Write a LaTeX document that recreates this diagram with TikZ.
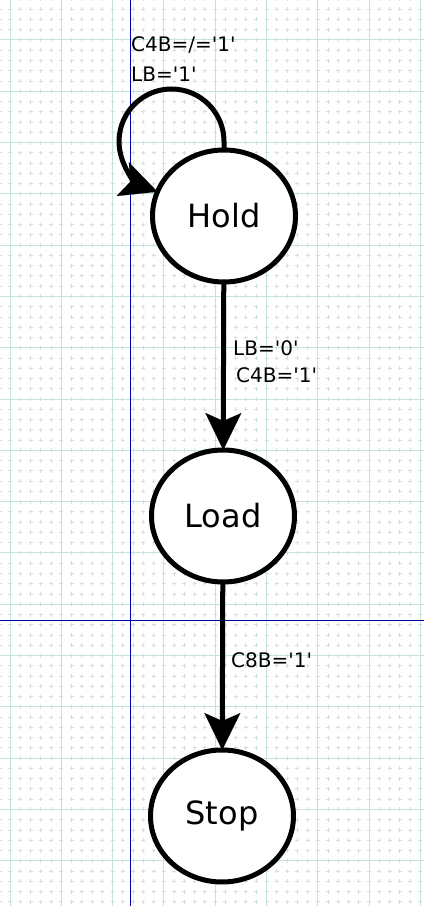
\documentclass[tikz,border=0pt]{standalone}
\usepackage{fontspec}
\setmainfont{DejaVu Sans}
\usetikzlibrary{shapes.geometric,arrows.meta}

\definecolor{gridmajor}{RGB}{198,226,222}
\definecolor{gridminor}{RGB}{212,224,222}
\definecolor{guideblue}{RGB}{0,0,175}

\newcommand\sq{\textquotesingle}

\tikzset{
  state/.style={ellipse, draw, line width=5pt, fill=white, inner sep=0pt,
    outer sep=0pt, minimum width=143pt, minimum height=132pt,
    font=\fontsize{32}{38}\selectfont},
  trans/.style={line width=5pt,
    -{Stealth[length=37pt,width=36pt,inset=8pt,line width=0.1pt]}},
  cond/.style={anchor=base west, inner sep=0pt, font=\fontsize{20}{24}\selectfont},
  majorline/.style={gridmajor, line width=1pt},
  vminor/.style={gridminor, line width=1pt, dash pattern=on 4pt off 6.26pt, dash phase=8.1pt},
  hminor/.style={gridminor, line width=1pt, dash pattern=on 4pt off 6.26pt, dash phase=2.26pt}
}

\begin{document}
\begin{tikzpicture}[x=1pt,y=1pt]

  \def\xmin{0}
  \def\xmax{424}
  \def\ymin{0}
  \def\ymax{906}

  \useasboundingbox[fill=white] (\xmin,\ymin) rectangle (\xmax,\ymax);

  % grid
  \foreach \i in {-1,...,41}
  \draw[vminor] ({10+\i*10.26},\ymin) -- ({10+\i*10.26},\ymax);
  \foreach \j in {-4,...,85}
  \draw[hminor] (\xmin,{866-\j*10.26}) -- (\xmax,{866-\j*10.26});
  \foreach \i in {0,...,8}
  \draw[majorline] ({10+\i*51.3},\ymin) -- ({10+\i*51.3},\ymax);
  \foreach \j in {0,...,17}
  \draw[majorline] (\xmin,{866-\j*51.3}) -- (\xmax,{866-\j*51.3});

  % guides
  \draw[guideblue, line width=1pt] (130.5,\ymin) -- (130.5,\ymax);
  \draw[guideblue, line width=1pt] (\xmin,285.5) -- (\xmax,285.5);

  % states
  \node[state] (hold) at (224,690) {Hold};
  \node[state] (load) at (223,390) {Load};
  \node[state] (stop) at (222,90) {Stop};

  % transitions
  \draw[trans] (hold.north) -- ++(0,8.5)
    arc[start angle=0, end angle=195, radius=52.5]
    to[out=285, in=160] (hold.160);
  \draw[trans] (hold) -- (load);
  \draw[trans] (load) -- (stop);

  % conditions
  \node[cond] (holdcond1) at (131,854) {C4B=/=\sq1\sq};
  \node[cond] (holdcond2) at (131,824) {LB=\sq1\sq};
  \node[cond] (loadcond1) at (233,550) {LB=\sq0\sq};
  \node[cond] (loadcond2) at (236,523) {C4B=\sq1\sq};
  \node[cond] (stopcond) at (231,238) {C8B=\sq1\sq};

\end{tikzpicture}
\end{document}
